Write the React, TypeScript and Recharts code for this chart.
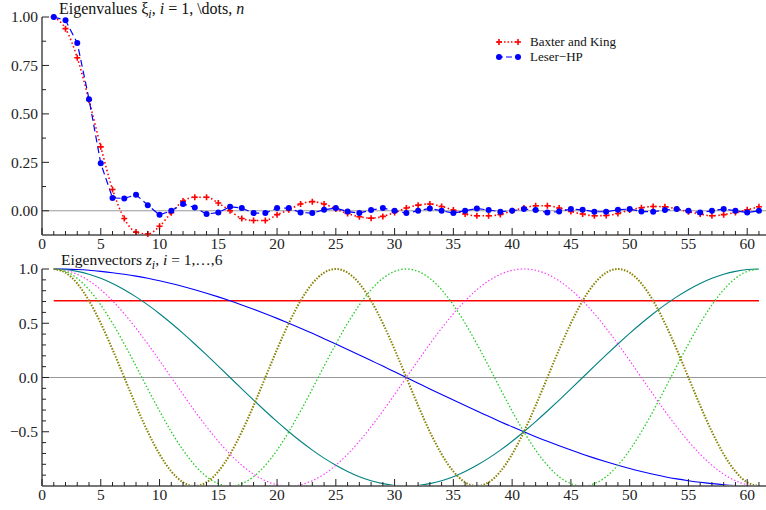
import { LineChart, Line, XAxis, YAxis, ReferenceLine, Legend } from "recharts";

const FONT = "'Liberation Serif', 'Times New Roman', serif";

// top panel: eigenvalues for n = 1..61
const baxterKing = [
  1.0, 0.94, 0.79, 0.57, 0.33, 0.11, -0.04, -0.11, -0.12, -0.08,
  -0.01, 0.05, 0.07, 0.07, 0.04, 0.0, -0.04, -0.05, -0.05, -0.02,
  0.005, 0.035, 0.047, 0.035, 0.009, -0.014, -0.031, -0.038, -0.029, -0.009,
  0.014, 0.029, 0.035, 0.022, 0.004, -0.017, -0.026, -0.026, -0.019, 0.0,
  0.014, 0.026, 0.026, 0.014, -0.004, -0.017, -0.026, -0.024, -0.014, 0.004,
  0.016, 0.022, 0.021, 0.009, -0.005, -0.017, -0.026, -0.02, -0.009, 0.005,
  0.021,
];
const leserHP = [
  1.0, 0.983, 0.866, 0.576, 0.245, 0.066, 0.064, 0.083, 0.029, -0.021,
  0.0, 0.035, 0.017, -0.017, -0.009, 0.021, 0.014, -0.012, -0.012, 0.014,
  0.014, -0.009, -0.012, 0.005, 0.014, -0.004, -0.012, 0.004, 0.014, 0.0,
  -0.012, 0.0, 0.012, 0.0, -0.012, 0.0, 0.012, 0.004, -0.005, 0.0,
  0.009, 0.004, -0.009, -0.004, 0.009, 0.005, -0.005, -0.005, 0.005, 0.009,
  -0.004, -0.005, 0.004, 0.009, 0.0, -0.009, 0.0, 0.009, 0.0, -0.009,
  0.0,
];

// bottom panel: eigenvectors z1..z6
const z1Index = [1, 61];
const z1 = [0.707, 0.707];
const z2 = [
  1.0, 0.999, 0.995, 0.988, 0.978, 0.966, 0.951, 0.934, 0.914, 0.891, 0.866,
  0.839, 0.809, 0.777, 0.743, 0.707, 0.669, 0.629, 0.588, 0.545, 0.5,
  0.454, 0.407, 0.358, 0.309, 0.259, 0.208, 0.156, 0.105, 0.052, 0.0,
  -0.052, -0.105, -0.156, -0.208, -0.259, -0.309, -0.358, -0.407, -0.454, -0.5,
  -0.545, -0.588, -0.629, -0.669, -0.707, -0.743, -0.777, -0.809, -0.839, -0.866,
  -0.891, -0.914, -0.934, -0.951, -0.966, -0.978, -0.988, -0.995, -0.999, -1.0,
];
const z3 = [
  1.0, 0.995, 0.978, 0.951, 0.914, 0.866, 0.809, 0.743, 0.669, 0.588, 0.5,
  0.407, 0.309, 0.208, 0.105, 0.0, -0.105, -0.208, -0.309, -0.407, -0.5,
  -0.588, -0.669, -0.743, -0.809, -0.866, -0.914, -0.951, -0.978, -0.995, -1.0,
  -0.995, -0.978, -0.951, -0.914, -0.866, -0.809, -0.743, -0.669, -0.588, -0.5,
  -0.407, -0.309, -0.208, -0.105, 0.0, 0.105, 0.208, 0.309, 0.407, 0.5,
  0.588, 0.669, 0.743, 0.809, 0.866, 0.914, 0.951, 0.978, 0.995, 1.0,
];
const z4 = [
  1.0, 0.988, 0.951, 0.891, 0.809, 0.707, 0.588, 0.454, 0.309, 0.156, 0.0,
  -0.156, -0.309, -0.454, -0.588, -0.707, -0.809, -0.891, -0.951, -0.988, -1.0,
  -0.988, -0.951, -0.891, -0.809, -0.707, -0.588, -0.454, -0.309, -0.156, 0.0,
  0.156, 0.309, 0.454, 0.588, 0.707, 0.809, 0.891, 0.951, 0.988, 1.0,
  0.988, 0.951, 0.891, 0.809, 0.707, 0.588, 0.454, 0.309, 0.156, 0.0,
  -0.156, -0.309, -0.454, -0.588, -0.707, -0.809, -0.891, -0.951, -0.988, -1.0,
];
const z5 = [
  1.0, 0.978, 0.914, 0.809, 0.669, 0.5, 0.309, 0.105, -0.105, -0.309, -0.5, -0.669, -0.809, -0.914, -0.978, -1.0,
  -0.978, -0.914, -0.809, -0.669, -0.5, -0.309, -0.105, 0.105, 0.309, 0.5, 0.669, 0.809, 0.914, 0.978, 1.0,
  0.978, 0.914, 0.809, 0.669, 0.5, 0.309, 0.105, -0.105, -0.309, -0.5, -0.669, -0.809, -0.914, -0.978, -1.0,
  -0.978, -0.914, -0.809, -0.669, -0.5, -0.309, -0.105, 0.105, 0.309, 0.5, 0.669, 0.809, 0.914, 0.978, 1.0,
];
const z6 = [
  1.0, 0.966, 0.866, 0.707, 0.5, 0.259, 0.0, -0.259, -0.5, -0.707, -0.866, -0.966, -1.0,
  -0.966, -0.866, -0.707, -0.5, -0.259, 0.0, 0.259, 0.5, 0.707, 0.866, 0.966, 1.0,
  0.966, 0.866, 0.707, 0.5, 0.259, 0.0, -0.259, -0.5, -0.707, -0.866, -0.966, -1.0,
  -0.966, -0.866, -0.707, -0.5, -0.259, 0.0, 0.259, 0.5, 0.707, 0.866, 0.966, 1.0,
  0.966, 0.866, 0.707, 0.5, 0.259, 0.0, -0.259, -0.5, -0.707, -0.866, -0.966, -1.0,
];

// ticks
const xMajor = [0, 5, 10, 15, 20, 25, 30, 35, 40, 45, 50, 55, 60];
const xTicks = Array.from({ length: 62 }, (_, i) => i);
const topYMajor = [0, 0.25, 0.5, 0.75, 1];
const topYTicks = [0, 0.125, 0.25, 0.375, 0.5, 0.625, 0.75, 0.875, 1];
const botYMajor = [-0.5, 0, 0.5, 1];
const botYTicks = [-0.9, -0.8, -0.7, -0.6, -0.5, -0.4, -0.3, -0.2, -0.1, 0, 0.1, 0.2, 0.3, 0.4, 0.5, 0.6, 0.7, 0.8, 0.9, 1];

const topData = baxterKing.map((v, i) => ({ n: i + 1, bk: v, lhp: leserHP[i] }));
const botData = z2.map((v, i) => ({ n: i + 1, z2: v, z3: z3[i], z4: z4[i], z5: z5[i], z6: z6[i] }));
const z1Data = z1Index.map((n, i) => ({ n, z1: z1[i] }));

const near = (list: number[], v: number) => list.some((m) => Math.abs(m - v) < 1e-9);
const minus = (s: string) => s.replace("-", "\u2212");
const serif = { fontFamily: FONT };

function XTick(props: any) {
  const { x, y, payload } = props;
  const major = near(xMajor, payload.value);
  return (
    <g>
      <line x1={x} x2={x} y1={y} y2={y - (major ? 7 : 4)} stroke="#222" />
      {major && (
        <text x={x} y={y + 14} textAnchor="middle" style={serif} fontSize={15.5} fill="#222">
          {payload.value}
        </text>
      )}
    </g>
  );
}

function yTick(major: number[], digits: number) {
  return (props: any) => {
    const { x, y, payload } = props;
    const isMajor = near(major, payload.value);
    return (
      <g>
        <line x1={x} x2={x + (isMajor ? 7 : 4)} y1={y} y2={y} stroke="#222" />
        {isMajor && (
          <text x={x - 4} y={y} dy="0.35em" textAnchor="end" style={serif} fontSize={15.5} fill="#222">
            {minus(payload.value.toFixed(digits))}
          </text>
        )}
      </g>
    );
  };
}

function PlusDot(props: any) {
  const { cx, cy } = props;
  if (cx == null || cy == null) return null;
  return <path d={`M${cx - 3},${cy}H${cx + 3}M${cx},${cy - 3}V${cy + 3}`} stroke="#ff0000" strokeWidth={1.6} />;
}

function CircleDot(props: any) {
  const { cx, cy } = props;
  if (cx == null || cy == null) return null;
  return <circle cx={cx} cy={cy} r={3} fill="#0000ff" />;
}

function LegendBox() {
  return (
    <svg width={160} height={36} style={{ display: "block" }}>
      <line x1={2} x2={25} y1={10} y2={10} stroke="#ff0000" strokeWidth={1.6} strokeDasharray="1.5 2" />
      <PlusDot cx={4} cy={10} />
      <PlusDot cx={23} cy={10} />
      <text x={35} y={14} style={serif} fontSize={13} fill="#111">Baxter and King</text>
      <line x1={2} x2={25} y1={25} y2={25} stroke="#0000ff" strokeWidth={1.2} strokeDasharray="6 3" />
      <CircleDot cx={4} cy={25} />
      <CircleDot cx={23} cy={25} />
      <text x={35} y={29} style={serif} fontSize={13} fill="#111">Leser−HP</text>
    </svg>
  );
}

const axisLine = { stroke: "#777", strokeWidth: 2 };

export default function App() {
  return (
    <div style={{ position: "absolute", left: 0, top: 0, width: 766, height: 510, background: "#fff" }}>
      <LineChart width={766} height={256} data={topData} margin={{ top: 17, right: 0, left: 0, bottom: 0 }}>
        <XAxis
          dataKey="n"
          type="number"
          domain={[0, 61.6]}
          ticks={xTicks}
          interval={0}
          tick={<XTick />}
          tickLine={false}
          tickSize={0}
          tickMargin={0}
          axisLine={axisLine}
          height={21}
        />
        <YAxis
          type="number"
          domain={[-0.125, 1]}
          ticks={topYTicks}
          interval={0}
          tick={yTick(topYMajor, 2)}
          tickLine={false}
          tickSize={0}
          tickMargin={0}
          axisLine={axisLine}
          width={42}
        />
        <ReferenceLine y={0} stroke="#999" strokeWidth={1} />
        <Legend
          layout="horizontal"
          verticalAlign="middle"
          align="center"
          content={() => <LegendBox />}
          wrapperStyle={{ position: "absolute", left: 495, top: 32, width: 160 }}
        />
        <Line
          dataKey="bk"
          stroke="#ff0000"
          strokeWidth={1.6}
          strokeDasharray="1.5 2.5"
          type="monotone"
          dot={<PlusDot />}
          activeDot={false}
          isAnimationActive={false}
        />
        <Line
          dataKey="lhp"
          stroke="#0000ff"
          strokeWidth={1.2}
          strokeDasharray="7 4"
          type="linear"
          dot={<CircleDot />}
          activeDot={false}
          isAnimationActive={false}
        />
      </LineChart>
      <LineChart width={766} height={254} data={botData} margin={{ top: 13, right: 0, left: 0, bottom: 0 }}>
        <XAxis
          dataKey="n"
          type="number"
          domain={[0, 61.6]}
          ticks={xTicks}
          interval={0}
          tick={<XTick />}
          tickLine={false}
          tickSize={0}
          tickMargin={0}
          axisLine={axisLine}
          height={24}
        />
        <YAxis
          type="number"
          domain={[-1, 1]}
          ticks={botYTicks}
          interval={0}
          tick={yTick(botYMajor, 1)}
          tickLine={false}
          tickSize={0}
          tickMargin={0}
          axisLine={axisLine}
          width={42}
        />
        <ReferenceLine y={0} stroke="#999" strokeWidth={1} />
        <Line data={z1Data} dataKey="z1" stroke="#ff0000" strokeWidth={1.6} dot={false} activeDot={false} isAnimationActive={false} />
        <Line dataKey="z2" stroke="#0000ff" strokeWidth={1.1} type="natural" dot={false} activeDot={false} isAnimationActive={false} />
        <Line dataKey="z3" stroke="#008080" strokeWidth={1.1} type="natural" dot={false} activeDot={false} isAnimationActive={false} />
        <Line dataKey="z4" stroke="#ff33ff" strokeWidth={1.1} strokeDasharray="1.5 2" type="natural" dot={false} activeDot={false} isAnimationActive={false} />
        <Line dataKey="z5" stroke="#22cc22" strokeWidth={1.3} strokeDasharray="1.5 2" type="natural" dot={false} activeDot={false} isAnimationActive={false} />
        <Line dataKey="z6" stroke="#8a8200" strokeWidth={2} strokeDasharray="1.5 1.5" type="natural" dot={false} activeDot={false} isAnimationActive={false} />
      </LineChart>
      <svg width={766} height={510} style={{ position: "absolute", left: 0, top: 0, pointerEvents: "none" }}>
        <text x={59} y={14} style={serif} fontSize={16} fill="#111">
          Eigenvalues ξ
          <tspan fontStyle="italic" fontSize={12} dy={4}>i</tspan>
          <tspan dy={-4}>, </tspan>
          <tspan fontStyle="italic">i</tspan>
          <tspan> = 1, \dots, </tspan>
          <tspan fontStyle="italic">n</tspan>
        </text>
        <text x={61} y={265} style={serif} fontSize={15.5} fill="#111">
          Eigenvectors <tspan fontStyle="italic">z</tspan>
          <tspan fontStyle="italic" fontSize={12} dy={4}>i</tspan>
          <tspan dy={-4}>, </tspan>
          <tspan fontStyle="italic">i</tspan>
          <tspan> = 1,…,6</tspan>
        </text>
      </svg>
    </div>
  );
}
